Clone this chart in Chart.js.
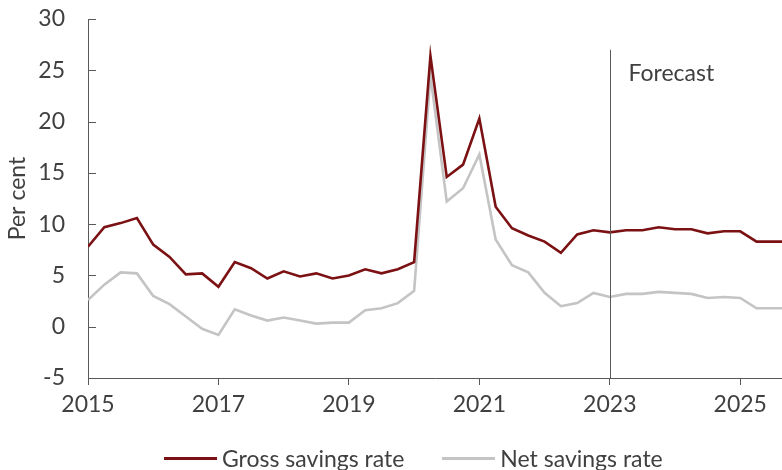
<!DOCTYPE html>
<html>
<head>
<meta charset="utf-8">
<script src="https://cdn.jsdelivr.net/npm/chart.js@4.4.1/dist/chart.umd.min.js"></script>
<style>
  body { margin: 0; background: #fff; }
  #wrap { position: relative; width: 782px; height: 470px; }
  #legend {
    position: absolute; left: 164px; top: 443px; height: 30px;
    display: flex; align-items: center;
    font-family: Lato, sans-serif; font-size: 23px; color: #404040;
  }
  .item { display: flex; align-items: center; margin-right: 38px; }
  .swatch { width: 53px; height: 3px; margin-right: 5px; }
</style>
</head>
<body>
<div id="wrap">
  <canvas id="lineChart" width="782" height="470"></canvas>
  <div id="legend"></div>
</div>
<script>
// Dados

const startYear = 2015;
const yearTicks = [2015, 2017, 2019, 2021, 2023, 2025];
const forecastYear = 2023;

const grossRate = [7.8, 9.7, 10.1, 10.6, 8.0, 6.8, 5.1, 5.2, 3.9, 6.3, 5.7, 4.7,
    5.4, 4.9, 5.2, 4.7, 5.0, 5.6, 5.2, 5.6, 6.3, 26.4, 14.6, 15.8, 20.3, 11.7,
    9.6, 8.9, 8.3, 7.2, 9.0, 9.4, 9.2, 9.4, 9.4, 9.7, 9.5, 9.5, 9.1, 9.3, 9.3,
    8.3, 8.3, 8.3];

const netRate = [2.6, 4.1, 5.3, 5.2, 3.0, 2.2, 1.0, -0.2, -0.8, 1.7, 1.1, 0.6,
    0.9, 0.6, 0.3, 0.4, 0.4, 1.6, 1.8, 2.3, 3.5, 24.5, 12.2, 13.5, 16.8, 8.5,
    6.0, 5.3, 3.3, 2.0, 2.3, 3.3, 2.9, 3.2, 3.2, 3.4, 3.3, 3.2, 2.8, 2.9, 2.8,
    1.8, 1.8, 1.8];

// trimestres: 2015 Q1, 2015 Q2, ...
const quarters = [];
for (let i = 0; i < grossRate.length; i++) {
    quarters.push((startYear + Math.floor(i / 4)) + ' Q' + (i % 4 + 1));
}

function quarterToYear(q) {
    const parts = q.split(' Q');
    return Number(parts[0]) + (Number(parts[1]) - 1) / 4;
}

function toPoints(values) {
    return values.map((v, i) => ({ x: quarterToYear(quarters[i]), y: v }));
}

const textColor = '#404040';
const axisColor = '#595959';
const font = { family: 'Lato', size: 23 };

const data = {
    datasets: [
        {
            label: 'Gross savings rate',
            borderColor: '#7b1113',
            backgroundColor: '#7b1113',
            data: toPoints(grossRate)
        },
        {
            label: 'Net savings rate',
            borderColor: '#c4c4c4',
            backgroundColor: '#c4c4c4',
            data: toPoints(netRate)
        }
    ]
};

// Linha da previsão + marcas do eixo Y

const extras = {
    id: 'extras',
    afterDatasetsDraw(chart) {
        const { ctx, chartArea, scales } = chart;
        const x = scales.x, y = scales.y;
        ctx.save();
        ctx.strokeStyle = axisColor;
        ctx.lineWidth = 1;

        // marcas para dentro no eixo Y
        y.ticks.forEach(t => {
            const py = Math.round(y.getPixelForValue(t.value)) + 0.5;
            ctx.beginPath();
            ctx.moveTo(chartArea.left, py);
            ctx.lineTo(chartArea.left + 8, py);
            ctx.stroke();
        });

        const fx = Math.round(x.getPixelForValue(forecastYear)) + 0.5;
        ctx.beginPath();
        ctx.moveTo(fx, y.getPixelForValue(27));
        ctx.lineTo(fx, chartArea.bottom);
        ctx.stroke();

        ctx.fillStyle = textColor;
        ctx.font = '23px Lato';
        ctx.textBaseline = 'middle';
        ctx.textAlign = 'left';
        ctx.fillText('Forecast', fx + 18, y.getPixelForValue(24.7));
        ctx.restore();
    }
};

// Configurações

const config = {
    type: 'line',
    data: data,
    plugins: [extras],
    options: {
        responsive: false,
        animation: false,
        layout: { padding: { top: 19, right: 0, bottom: 50, left: 0 } },
        elements: {
            line: { borderWidth: 2.6, tension: 0 },
            point: { radius: 0 }
        },
        plugins: {
            legend: { display: false },
            tooltip: { enabled: false }
        },
        scales: {
            x: {
                type: 'linear',
                min: startYear,
                max: 2025.64,
                border: { color: axisColor, width: 1 },
                grid: { drawOnChartArea: false, drawTicks: true, tickLength: 7, color: axisColor },
                ticks: {
                    font: font, color: textColor, padding: 6, maxRotation: 0,
                    callback: v => String(v)
                },
                afterBuildTicks: s => { s.ticks = yearTicks.map(v => ({ value: v })); },
                afterFit: s => { s.height = 42; }
            },
            y: {
                min: -5,
                max: 30,
                border: { color: axisColor, width: 1 },
                // espaço entre rótulos e eixo feito pelo tickLength (marcas invisíveis)
                grid: { drawOnChartArea: false, drawTicks: true, tickLength: 23, color: 'transparent' },
                ticks: { stepSize: 5, font: font, color: textColor, padding: 0 },
                title: {
                    display: true, text: 'Per cent', font: font, color: textColor,
                    padding: { top: 4, bottom: 0 }
                },
                afterFit: s => { s.width = 88; }
            }
        }
    }
};

// Inicialização

const ctx = document.getElementById('lineChart').getContext('2d');
const myChart = new Chart(ctx, config);

// legenda
const legend = document.getElementById('legend');
data.datasets.forEach(ds => {
    const item = document.createElement('div');
    item.className = 'item';
    const sw = document.createElement('span');
    sw.className = 'swatch';
    sw.style.background = ds.borderColor;
    const txt = document.createElement('span');
    txt.textContent = ds.label;
    item.appendChild(sw);
    item.appendChild(txt);
    legend.appendChild(item);
});
</script>
</body>
</html>
